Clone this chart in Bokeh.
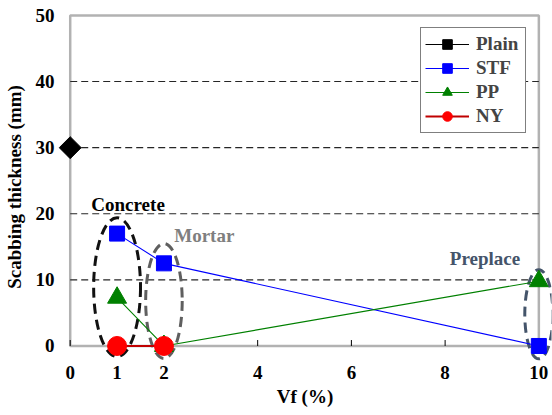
import math
from bokeh.plotting import figure
from bokeh.models import BoxAnnotation, FixedTicker, Label, Legend, LegendItem
from bokeh.embed import file_html
from bokeh.resources import INLINE

FONT = "'Liberation Serif', 'Times New Roman', serif"
FS = "19px"

# ---- data ----
x_ticks = [0, 1, 2, 4, 6, 8, 10]
y_ticks = [0, 10, 20, 30, 40, 50]
grid_levels = [10, 20, 30, 40]

plain_x = [0]
plain_y = [30.0]
stf_x = [1, 2, 10]
stf_y = [17.0, 12.5, 0.0]
pp_x = [1, 2, 10]
pp_y = [7.3, 0.0, 9.8]
ny_x = [1, 2]
ny_y = [0.0, 0.0]

group_names = ["Concrete", "Mortar", "Preplace"]
group_vf = [1, 2, 10]

# ---- figure ----
p = figure(width=552, height=415, output_backend="svg", toolbar_location=None,
           x_range=(-0.25, 10.27), y_range=(-2.5, 50.6),
           min_border_left=57, min_border_right=1, min_border_top=11, min_border_bottom=53)
p.outline_line_color = None
p.xgrid.visible = False
p.ygrid.visible = False
p.background_fill_color = "white"
p.border_fill_color = "white"

# dashed horizontal grid lines between the axes
p.segment(x0=[x_ticks[0]] * len(grid_levels), y0=grid_levels,
          x1=[x_ticks[-1]] * len(grid_levels), y1=grid_levels,
          line_color="#262626", line_width=1.1, line_dash="7 4")

# inward tick marks on the x axis
p.segment(x0=x_ticks, y0=[y_ticks[0]] * len(x_ticks), x1=x_ticks,
          y1=[y_ticks[0] + 0.9] * len(x_ticks), line_color="black", line_width=1)

# frame box (acts as axis lines)
p.add_layout(BoxAnnotation(left=x_ticks[0], right=x_ticks[-1], bottom=y_ticks[0], top=y_ticks[-1],
                           fill_alpha=0, line_color="black", line_width=2.5, level="underlay"))

# group ellipses
ell_y = [8.9, 6.8, 4.8]
ell_w = [1.0, 0.78, 0.6]
ell_h = [21.0, 17.4, 13.5]
ell_c = ["#111111", "#5f5f5f", "#44546A"]
for gx, ey, ew, eh, ec in zip(group_vf, ell_y, ell_w, ell_h, ell_c):
    p.ellipse(x=[gx], y=[ey], width=[ew], height=[eh], fill_alpha=0,
              line_color=ec, line_width=3, line_dash="10 6")

# series
l_plain = p.line(plain_x, plain_y, line_color="black", line_width=1)
s_plain = p.scatter(plain_x, plain_y, marker="square", angle=math.pi / 4, size=15.5,
                    fill_color="black", line_color="black")
l_stf = p.line(stf_x, stf_y, line_color="#0000FF", line_width=1.1)
s_stf = p.scatter(stf_x, stf_y, marker="square", size=15, fill_color="#0000FF", line_color="#0000FF")
l_pp = p.line(pp_x, pp_y, line_color="#008000", line_width=1.1)
s_pp = p.scatter(pp_x, pp_y, marker="triangle", size=19, fill_color="#008000", line_color="#008000")
l_ny = p.line(ny_x, ny_y, line_color="#C00000", line_width=2)
s_ny = p.scatter(ny_x, ny_y, marker="circle", size=19, fill_color="#FF0000", line_color="#FF0000")

# group labels
lab_x = [0.45, 2.22, 8.1]
lab_y = [21.4, 16.7, 13.3]
lab_c = ["black", "#7f7f7f", "#44546A"]
for name, lx, ly, lc in zip(group_names, lab_x, lab_y, lab_c):
    p.add_layout(Label(x=lx, y=ly, text=name, text_font=FONT, text_font_style="bold",
                       text_font_size=FS, text_color=lc, text_baseline="middle",
                       text_align="left"))

# axes
xa = p.xaxis[0]
xa.ticker = FixedTicker(ticks=x_ticks)
xa.axis_line_color = None
xa.major_tick_in = 0
xa.major_tick_out = 0
xa.minor_tick_line_color = None
xa.major_label_standoff = 3
xa.major_label_text_font = FONT
xa.major_label_text_font_style = "bold"
xa.major_label_text_font_size = FS
xa.major_label_text_color = "black"
xa.axis_label = "Vf (%)"
xa.axis_label_text_font = FONT
xa.axis_label_text_font_style = "bold"
xa.axis_label_text_font_size = FS
xa.axis_label_text_color = "black"
xa.axis_label_standoff = 4

ya = p.yaxis[0]
ya.ticker = FixedTicker(ticks=y_ticks)
ya.axis_line_color = None
ya.major_tick_in = 0
ya.major_tick_out = 0
ya.minor_tick_line_color = None
ya.major_label_standoff = 4
ya.major_label_text_font = FONT
ya.major_label_text_font_style = "bold"
ya.major_label_text_font_size = FS
ya.major_label_text_color = "black"
ya.axis_label = "Scabbing thickness (mm)"
ya.axis_label_text_font = FONT
ya.axis_label_text_font_style = "bold"
ya.axis_label_text_font_size = FS
ya.axis_label_text_color = "black"
ya.axis_label_standoff = 8

legend = Legend(items=[
    LegendItem(label="Plain", renderers=[l_plain, s_plain]),
    LegendItem(label="STF", renderers=[l_stf, s_stf]),
    LegendItem(label="PP", renderers=[l_pp, s_pp]),
    LegendItem(label="NY", renderers=[l_ny, s_ny]),
], location=(362, 229))
legend.border_line_color = "black"
legend.border_line_width = 1
legend.background_fill_color = "white"
legend.background_fill_alpha = 1
legend.label_text_font = FONT
legend.label_text_font_style = "bold"
legend.label_text_font_size = FS
legend.glyph_width = 44
legend.glyph_height = 24
legend.label_height = 24
legend.label_width = 45
legend.spacing = 0
legend.padding = 4
legend.margin = 0
legend.label_standoff = 7
p.add_layout(legend)

open("out.html", "w").write(file_html(p, INLINE))
